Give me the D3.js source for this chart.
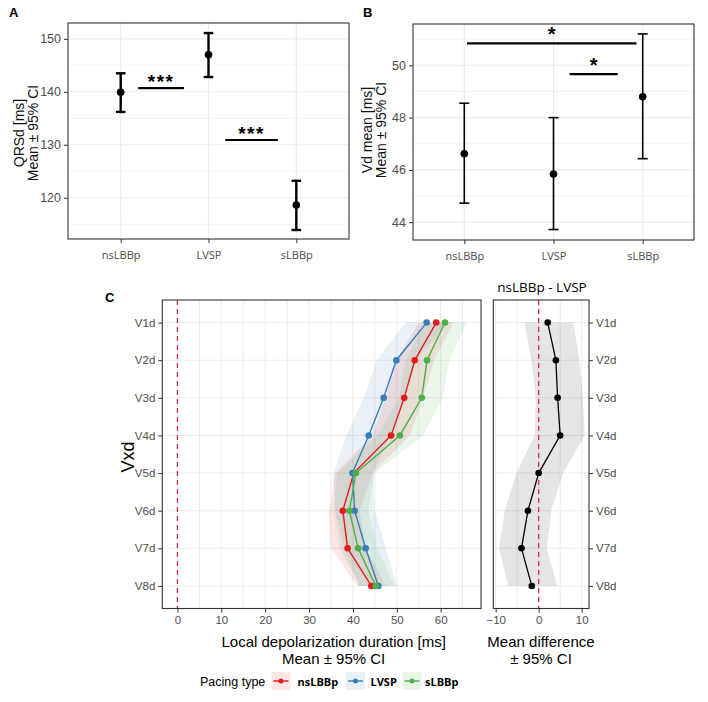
<!DOCTYPE html>
<html><head><meta charset="utf-8">
<script src="https://cdn.jsdelivr.net/npm/d3@7"></script>
<style>body{margin:0;background:#fff} text{font-family:"Liberation Sans", Arial, sans-serif}</style>
</head><body><svg id="c" width="708" height="702"></svg>
<script>
// ---------- data ----------
const groups = ["nsLBBp", "LVSP", "sLBBp"];
const qrsMean = [139.9, 147.0, 118.6];
const qrsLow  = [136.2, 142.8, 113.9];
const qrsHigh = [143.5, 151.1, 123.2];
const qrsTicks = [120, 130, 140, 150];
const qrsMinor = [115, 125, 135, 145];
const vdMean = [46.62, 45.84, 48.80];
const vdLow  = [44.73, 43.72, 46.43];
const vdHigh = [48.55, 48.00, 51.20];
const vdTicks = [44, 46, 48, 50];
const vdMinor = [45, 47, 49, 51];
const sigA = [{x1: 1.2, x2: 1.72, y: 140.7, label: "***"}, {x1: 2.19, x2: 2.79, y: 130.9, label: "***"}];
const sigB = [{x1: 1.03, x2: 2.93, y: 50.84, label: "*"}, {x1: 2.18, x2: 2.72, y: 49.66, label: "*"}];

const leads = ["V1d", "V2d", "V3d", "V4d", "V5d", "V6d", "V7d", "V8d"];
const nsMean = [59.0, 54.1, 51.7, 48.7, 40.2, 37.7, 38.8, 44.2];
const nsLow  = [55.0, 50.0, 47.5, 44.5, 36.0, 34.5, 35.0, 41.0];
const nsHigh = [63.0, 58.5, 56.0, 53.0, 44.5, 41.5, 43.0, 47.5];
const lvMean = [56.8, 49.9, 47.0, 43.6, 39.9, 40.4, 42.9, 45.8];
const lvLow  = [52.0, 45.5, 42.5, 38.5, 35.5, 36.0, 38.0, 41.5];
const lvHigh = [61.5, 54.5, 51.5, 48.5, 44.5, 45.0, 47.5, 50.0];
const sMean = [61.0, 56.9, 55.7, 50.7, 40.7, 39.2, 41.2, 45.2];
const sLow  = [56.5, 52.0, 50.5, 45.5, 36.5, 35.5, 37.0, 41.5];
const sHigh = [66.0, 62.0, 60.5, 56.0, 45.0, 43.5, 45.5, 49.5];
const durTicks = [0, 10, 20, 30, 40, 50, 60];
const durGrid = [0, 5, 10, 15, 20, 25, 30, 35, 40, 45, 50, 55, 60, 65];
const diffMean = [2.1, 4.0, 4.4, 5.0, 0.0, -2.5, -4.0, -1.6];
const diffLow  = [-3.3, -1.7, -0.7, -0.9, -5.2, -7.9, -9.2, -7.1];
const diffHigh = [8.0, 9.5, 10.3, 10.7, 5.7, 2.9, 1.9, 4.3];
const diffTicks = [-10, 0, 10];
const diffGrid = [-10, -5, 0, 5, 10];
const seriesColors = ["#E41A1C", "#377EB8", "#4DAF4A"];

// ---------- helpers ----------
const svg = d3.select("#c");
const GRID = "#ebebeb", BORDER = "#333", TICKC = "#4d4d4d";
function hgrid(g, y, vals, x0, x1, w) {
  g.selectAll(null).data(vals).enter().append("line")
    .attr("x1", x0).attr("x2", x1).attr("y1", d => y(d)).attr("y2", d => y(d))
    .attr("stroke", GRID).attr("stroke-width", w);
}
function vgrid(g, x, vals, y0, y1, w) {
  g.selectAll(null).data(vals).enter().append("line")
    .attr("y1", y0).attr("y2", y1).attr("x1", d => x(d)).attr("x2", d => x(d))
    .attr("stroke", GRID).attr("stroke-width", w);
}
function border(g, x0, y0, x1, y1) {
  g.append("rect").attr("x", x0).attr("y", y0).attr("width", x1 - x0).attr("height", y1 - y0)
    .attr("fill", "none").attr("stroke", BORDER).attr("stroke-width", 1.1);
}
function styleAxis(a, fs, family) {
  a.select(".domain").remove();
  a.selectAll(".tick line").attr("stroke", BORDER);
  a.selectAll(".tick text").attr("fill", TICKC).style("font-size", fs + "px")
    .style("font-family", family || "'Liberation Sans', Arial, sans-serif");
}

// ---------- Panel A / B ----------
function errPanel(opt) {
  const g = svg.append("g");
  const x = d3.scalePoint().domain(groups).range([opt.x0, opt.x1]).padding(opt.pad);
  const y = d3.scaleLinear().domain(opt.dom).range([opt.y1, opt.y0]);
  const xc = v => x(groups[0]) + (v - 1) * x.step();
  hgrid(g, y, opt.minor, opt.x0, opt.x1, 0.6);
  hgrid(g, y, opt.ticks, opt.x0, opt.x1, 1.1);
  vgrid(g, x, groups, opt.y0, opt.y1, 1.1);
  const rows = groups.map((k, i) => ({k, m: opt.mean[i], lo: opt.low[i], hi: opt.high[i]}));
  const eb = g.selectAll(null).data(rows).enter().append("g");
  eb.append("line").attr("x1", d => x(d.k)).attr("x2", d => x(d.k)).attr("y1", d => y(d.lo)).attr("y2", d => y(d.hi))
    .attr("stroke", "#000").attr("stroke-width", opt.lw);
  ["lo", "hi"].forEach(f => eb.append("line").attr("x1", d => x(d.k) - opt.cap).attr("x2", d => x(d.k) + opt.cap)
    .attr("y1", d => y(d[f])).attr("y2", d => y(d[f])).attr("stroke", "#000").attr("stroke-width", opt.lw));
  eb.append("circle").attr("cx", d => x(d.k)).attr("cy", d => y(d.m)).attr("r", 3.8).attr("fill", "#000");
  const s = g.selectAll(null).data(opt.sig).enter().append("g");
  s.append("line").attr("x1", d => xc(d.x1)).attr("x2", d => xc(d.x2)).attr("y1", d => y(d.y)).attr("y2", d => y(d.y))
    .attr("stroke", "#000").attr("stroke-width", 2.2);
  s.append("text").attr("x", d => (xc(d.x1) + xc(d.x2)) / 2).attr("y", d => y(d.y) - opt.sy)
    .attr("text-anchor", "middle").style("font-size", opt.sfs + "px").style("font-weight", "bold")
    .style("letter-spacing", opt.ls + "px").text(d => d.label);
  border(g, opt.x0, opt.y0, opt.x1, opt.y1);
  const ax = g.append("g").attr("transform", `translate(0,${opt.y1})`).call(d3.axisBottom(x).tickSize(4).tickPadding(8));
  styleAxis(ax, 11, "'Open Sans', sans-serif");
  const ay = g.append("g").attr("transform", `translate(${opt.x0},0)`).call(d3.axisLeft(y).tickValues(opt.ticks).tickSize(4).tickPadding(3));
  styleAxis(ay, 12.5);
  const t = g.append("text").attr("transform", `translate(${opt.tx},${opt.ty}) rotate(-90)`).attr("text-anchor", "middle")
    .style("font-size", "14px").attr("fill", "#111");
  t.append("tspan").attr("x", 0).attr("dy", 0).text(opt.title[0]);
  t.append("tspan").attr("x", 0).attr("dy", 14).text(opt.title[1]);
  svg.append("text").attr("x", opt.lx).attr("y", 17).style("font-size", "13px").style("font-weight", "bold").text(opt.letter);
}
errPanel({x0: 68, x1: 349, y0: 23, y1: 239, pad: 0.6, dom: [112.2, 153], ticks: qrsTicks, minor: qrsMinor,
  mean: qrsMean, low: qrsLow, high: qrsHigh, sig: sigA, lw: 2.4, cap: 4.8, sy: 0, sfs: 19, ls: 1.5,
  title: ["QRSd [ms]", "Mean \u00b1 95% CI"], tx: 24, ty: 133, letter: "A", lx: 9});
errPanel({x0: 413, x1: 694, y0: 24, y1: 240, pad: 0.575, dom: [43.32, 51.58], ticks: vdTicks, minor: vdMinor,
  mean: vdMean, low: vdLow, high: vdHigh, sig: sigB, lw: 1.6, cap: 5, sy: 2, sfs: 20, ls: 0,
  title: ["Vd mean [ms]", "Mean \u00b1 95% CI"], tx: 372, ty: 130, letter: "B", lx: 363});

// ---------- Panel C left ----------
const cx0 = 162.3, cx1 = 481, cy0 = 300, cy1 = 608.5;
const gC = svg.append("g");
const xC = d3.scaleLinear().domain([-3.45, 69.2]).range([cx0, cx1]);
const yC = d3.scalePoint().domain(leads).range([cy0, cy1]).padding(0.6);
vgrid(gC, xC, durGrid, cy0, cy1, 1);
hgrid(gC, yC, leads, cx0, cx1, 1.1);
gC.append("line").attr("x1", xC(0)).attr("x2", xC(0)).attr("y1", cy0).attr("y2", cy1)
  .attr("stroke", "#d62f3a").attr("stroke-width", 1.3).attr("stroke-dasharray", "5,4");
const series = [
  {name: "nsLBBp", m: nsMean, lo: nsLow, hi: nsHigh, c: seriesColors[0]},
  {name: "LVSP", m: lvMean, lo: lvLow, hi: lvHigh, c: seriesColors[1]},
  {name: "sLBBp", m: sMean, lo: sLow, hi: sHigh, c: seriesColors[2]}
];
const area = d3.area().y((d, i) => yC(leads[i])).x0(d => xC(d[0])).x1(d => xC(d[1]));
series.forEach(s => {
  gC.append("path").datum(s.lo.map((v, i) => [v, s.hi[i]])).attr("d", area)
    .attr("fill", s.c).attr("fill-opacity", 0.11);
});
const line = d3.line().y((d, i) => yC(leads[i])).x(d => xC(d));
series.forEach(s => {
  gC.append("path").datum(s.m).attr("d", line).attr("fill", "none").attr("stroke", s.c).attr("stroke-width", 1.4);
  gC.selectAll(null).data(s.m).enter().append("circle")
    .attr("cx", d => xC(d)).attr("cy", (d, i) => yC(leads[i])).attr("r", 3.3).attr("fill", s.c);
});
border(gC, cx0, cy0, cx1, cy1);
const axC = gC.append("g").attr("transform", `translate(0,${cy1})`).call(d3.axisBottom(xC).tickValues(durTicks).tickSize(4).tickPadding(3));
styleAxis(axC, 11.5);
const ayC = gC.append("g").attr("transform", `translate(${cx0},0)`).call(d3.axisLeft(yC).tickSize(4).tickPadding(3));
styleAxis(ayC, 11.5);
gC.append("text").attr("transform", `translate(134,457) rotate(-90)`).attr("text-anchor", "middle")
  .style("font-size", "18px").text("Vxd");
const xt = gC.append("text").attr("x", (cx0 + cx1) / 2 + 12).attr("y", 647).attr("text-anchor", "middle").style("font-size", "15px");
xt.append("tspan").attr("x", (cx0 + cx1) / 2 + 12).text("Local depolarization duration [ms]");
xt.append("tspan").attr("x", (cx0 + cx1) / 2 + 12).attr("dy", 17).text("Mean \u00b1 95% CI");
svg.append("text").attr("x", 105).attr("y", 302).style("font-size", "13px").style("font-weight", "bold").text("C");

// ---------- Panel C right ----------
const dx0 = 493.3, dx1 = 589;
const gD = svg.append("g");
const xD = d3.scaleLinear().domain([-10.55, 11.7]).range([dx0, dx1]);
const yD = d3.scalePoint().domain(leads).range([cy0, cy1]).padding(0.6);
vgrid(gD, xD, diffGrid, cy0, cy1, 1);
hgrid(gD, yD, leads, dx0, dx1, 1.1);
const areaD = d3.area().y((d, i) => yD(leads[i])).x0(d => xD(d[0])).x1(d => xD(d[1]));
gD.append("path").datum(diffLow.map((v, i) => [v, diffHigh[i]])).attr("d", areaD).attr("fill", "#000").attr("fill-opacity", 0.1);
gD.append("line").attr("x1", xD(0)).attr("x2", xD(0)).attr("y1", cy0).attr("y2", cy1)
  .attr("stroke", "#d62f3a").attr("stroke-width", 1.3).attr("stroke-dasharray", "5,4");
const lineD = d3.line().y((d, i) => yD(leads[i])).x(d => xD(d));
gD.append("path").datum(diffMean).attr("d", lineD).attr("fill", "none").attr("stroke", "#000").attr("stroke-width", 1.3);
gD.selectAll(null).data(diffMean).enter().append("circle")
  .attr("cx", d => xD(d)).attr("cy", (d, i) => yD(leads[i])).attr("r", 3.3).attr("fill", "#000");
border(gD, dx0, cy0, dx1, cy1);
const axD = gD.append("g").attr("transform", `translate(0,${cy1})`).call(d3.axisBottom(xD).tickValues(diffTicks).tickSize(4).tickPadding(3).tickFormat(d => d < 0 ? "\u2212" + Math.abs(d) : d));
styleAxis(axD, 11.5);
const ayD = gD.append("g").attr("transform", `translate(${dx1},0)`).call(d3.axisRight(yD).tickSize(4).tickPadding(3));
styleAxis(ayD, 11.5);
const dt = gD.append("text").attr("y", 647).attr("text-anchor", "middle").style("font-size", "15px");
dt.append("tspan").attr("x", 541).text("Mean difference");
dt.append("tspan").attr("x", 541).attr("dy", 17).text("\u00b1 95% CI");
gD.append("text").attr("x", 542).attr("y", 292).attr("text-anchor", "middle")
  .style("font-size", "13.5px").style("font-family", "'Open Sans', sans-serif").text("nsLBBp - LVSP");

// ---------- Legend ----------
const lg = svg.append("g").attr("transform", "translate(200,681)");
lg.append("text").attr("x", 0).attr("y", 5).style("font-size", "12.5px").text("Pacing type");
const keyX = [71.5, 146, 202.5], labX = [97.5, 170.5, 225];
series.forEach((s, i) => {
  const k = lg.append("g").attr("transform", `translate(${keyX[i]},0)`);
  k.append("rect").attr("x", 0).attr("y", -9).attr("width", 19).attr("height", 18).attr("fill", s.c).attr("fill-opacity", 0.11);
  k.append("line").attr("x1", 2).attr("x2", 17).attr("y1", 0).attr("y2", 0).attr("stroke", s.c).attr("stroke-width", 1.4);
  k.append("circle").attr("cx", 9.5).attr("cy", 0).attr("r", 2.5).attr("fill", s.c);
  lg.append("text").attr("x", labX[i]).attr("y", 4.5).style("font-size", "11px").style("font-weight", "bold")
    .style("font-family", "'Open Sans', sans-serif").text(s.name);
});
</script></body></html>
